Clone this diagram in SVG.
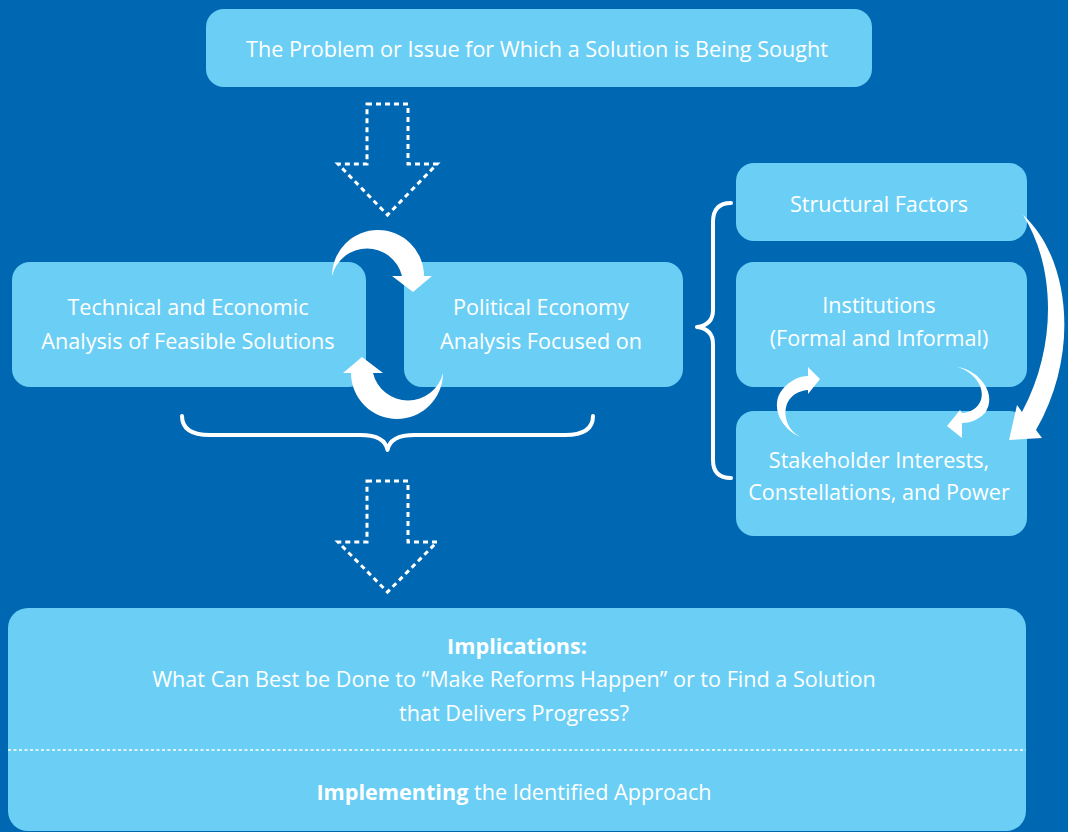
<svg xmlns="http://www.w3.org/2000/svg" width="1068" height="832" viewBox="0 0 1068 832">
<style>
.box{fill:#6BCFF5;}
.t{font-family:"Open Sans","Noto Sans",sans-serif;font-size:21.6px;fill:#ffffff;text-anchor:middle;}
.b{font-weight:bold;}
.dash{fill:none;stroke:#ffffff;stroke-width:3;stroke-dasharray:5 4;}
.brace{fill:none;stroke:#ffffff;stroke-width:4;stroke-linecap:round;stroke-linejoin:round;}
.arr{fill:#ffffff;}
</style>
<rect width="1068" height="832" fill="#0067B3"/>
<g id="problem">
<rect class="box" x="206" y="9" width="666" height="78" rx="18"/>
<text class="t" x="537" y="57">The Problem or Issue for Which a Solution is Being Sought</text>
</g>
<g id="technical">
<rect class="box" x="12" y="262" width="354" height="125" rx="18"/>
<text class="t" x="188" y="315">Technical and Economic</text>
<text class="t" x="188" y="349">Analysis of Feasible Solutions</text>
</g>
<g id="political">
<rect class="box" x="404" y="262" width="279" height="125" rx="18"/>
<text class="t" x="541" y="315">Political Economy</text>
<text class="t" x="541" y="349">Analysis Focused on</text>
</g>
<g id="structural">
<rect class="box" x="736" y="163" width="291" height="78" rx="18"/>
<text class="t" x="879" y="212">Structural Factors</text>
</g>
<g id="institutions">
<rect class="box" x="736" y="262" width="291" height="125" rx="18"/>
<text class="t" x="879" y="313">Institutions</text>
<text class="t" x="879" y="346">(Formal and Informal)</text>
</g>
<g id="stakeholder">
<rect class="box" x="736" y="411" width="291" height="125" rx="18"/>
<text class="t" x="879" y="468">Stakeholder Interests,</text>
<text class="t" x="879" y="500">Constellations, and Power</text>
</g>
<g id="implications">
<rect class="box" x="8" y="608" width="1018" height="223" rx="20"/>
<text class="t b" x="517" y="654">Implications:</text>
<text class="t" x="514" y="687">What Can Best be Done to “Make Reforms Happen” or to Find a Solution</text>
<text class="t" x="514" y="721">that Delivers Progress?</text>
<line x1="8" y1="750" x2="1026" y2="750" stroke="#ffffff" stroke-width="1.5" stroke-dasharray="3 2.5"/>
<text class="t" x="514" y="800"><tspan class="b">Implementing</tspan> the Identified Approach</text>
</g>
<g id="connectors">
<path class="dash" d="M367,104 L408,104 L408,164 L437,164 L387.5,215 L338,164 L367,164 Z"/>
<path class="dash" d="M367,481 L408,481 L408,542 L437,542 L387.5,592 L338,542 L367,542 Z"/>
<path class="arr" d="M332,276 A46,46 0 0 1 424,276 L432,276 L413,292 L392,276 L402,276 A36,36 0 0 0 332,276 Z"/>
<path class="arr" transform="rotate(180 387.5 324.5)" d="M332,276 A46,46 0 0 1 424,276 L432,276 L413,292 L392,276 L402,276 A36,36 0 0 0 332,276 Z"/>
<path class="brace" d="M182,416 Q182,435 210,435 L360,435 Q385,435 387.5,450 Q390,435 415,435 L565,435 Q593,435 593,416"/>
<path class="brace" d="M731,203 Q713,203 713,222 L713,310 Q713,325 697,327 Q713,329 713,344 L713,460 Q713,478 731,478"/>
<path class="arr" d="M1023,215 C1068,255 1082,350 1036,430 L1042,438 L1009,440 L1017,405 L1022,412 C1058,345 1055,265 1023,215 Z"/>
<path class="arr" d="M803,438 C780,430 770,405 782,390 C790,380 800,376 808,376 L808,367 L820,379 L808,394 L808,390 C795,391 783,400 786,418 C788,428 795,435 803,438 Z"/>
<path class="arr" d="M957,367 C980,370 998,395 985,413 C978,420 970,423 962,423 L962,438 L947,426 L960,410 L962,413 C970,413 978,408 981,400 C985,388 975,372 957,367 Z"/>
</g>
</svg>
